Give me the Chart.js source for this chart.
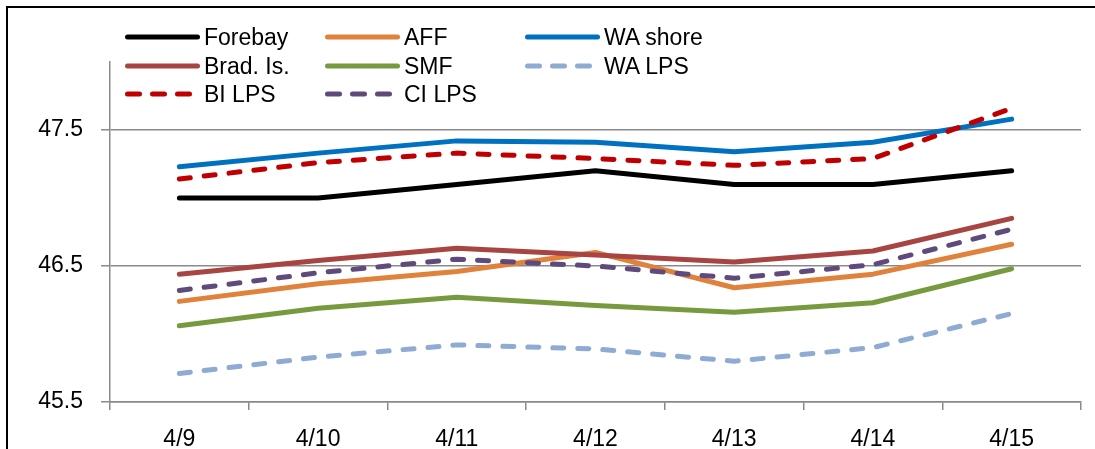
<!DOCTYPE html>
<html>
<head>
<meta charset="utf-8">
<script src="https://cdn.jsdelivr.net/npm/chart.js@4/dist/chart.umd.min.js"></script>
<style>
    html, body { margin: 0; padding: 0; background: #fff; }
    #wrap { position: relative; width: 1095px; height: 449px; overflow: hidden; }
    #frame { position: absolute; left: 6px; top: 6px; right: -10px; bottom: -10px;
             border-left: 2px solid #000; border-top: 2px solid #000; }
    #statsChart { position: absolute; left: 0; top: 0; }
    .leg { position: absolute; height: 28px; display: flex; align-items: center;
           font-family: "Liberation Sans", Arial, sans-serif; font-size: 23px; color: #000; white-space: nowrap; }
    .leg svg { margin-right: 4px; }
</style>
</head>
<body>
<div id="wrap">
    <div id="frame"></div>
    <canvas id="statsChart" width="1095" height="449"></canvas>
    <div id="legend"></div>
</div>
<script>
const categories = ['4/9', '4/10', '4/11', '4/12', '4/13', '4/14', '4/15'];
const yTicks = [45.5, 46.5, 47.5];

const forebay  = [47.00, 47.00, 47.10, 47.20, 47.10, 47.10, 47.20];
const aff      = [46.24, 46.37, 46.46, 46.60, 46.34, 46.44, 46.66];
const waShore  = [47.23, 47.33, 47.42, 47.41, 47.34, 47.41, 47.58];
const bradIs   = [46.44, 46.54, 46.63, 46.58, 46.53, 46.61, 46.85];
const smf      = [46.06, 46.19, 46.27, 46.21, 46.16, 46.23, 46.48];
const waLps    = [45.71, 45.83, 45.92, 45.89, 45.80, 45.90, 46.15];
const biLps    = [47.14, 47.26, 47.33, 47.29, 47.24, 47.29, 47.66];
const ciLps    = [46.32, 46.45, 46.55, 46.50, 46.41, 46.51, 46.77];

const series = [
    { label: 'Forebay',   data: forebay, color: '#000000', dashed: false },
    { label: 'AFF',       data: aff,     color: '#E0823C', dashed: false },
    { label: 'WA shore',  data: waShore, color: '#0070C0', dashed: false },
    { label: 'Brad. Is.', data: bradIs,  color: '#A84542', dashed: false },
    { label: 'SMF',       data: smf,     color: '#779A3E', dashed: false },
    { label: 'WA LPS',    data: waLps,   color: '#8FAAD3', dashed: true },
    { label: 'BI LPS',    data: biLps,   color: '#C00000', dashed: true },
    { label: 'CI LPS',    data: ciLps,   color: '#604A7B', dashed: true }
];

const gridColor = '#8a8a8a';
const tickFont = { family: '"Liberation Sans", Arial, sans-serif', size: 23 };

const datasets = series.map(function(s, i) {
    return {
        label: s.label,
        data: s.data,
        borderColor: s.color,
        backgroundColor: s.color,
        borderWidth: 5,
        borderDash: s.dashed ? [11, 14] : [],
        borderCapStyle: 'round',
        borderJoinStyle: 'round',
        pointRadius: 0,
        tension: 0,
        fill: false,
        order: -i
    };
});

const ctx = document.getElementById('statsChart').getContext('2d');
const myChart = new Chart(ctx, {
    type: 'line',
    data: { labels: categories, datasets: datasets },
    options: {
        responsive: false,
        animation: false,
        devicePixelRatio: 1,
        layout: { padding: { top: 62, right: 14, left: 0, bottom: 0 } },
        plugins: { legend: { display: false }, tooltip: { enabled: false } },
        scales: {
            x: {
                offset: true,
                grid: { offset: true, drawOnChartArea: false, drawTicks: true, tickLength: 8, color: gridColor, lineWidth: 1.5 },
                border: { color: gridColor, width: 1.5 },
                ticks: { color: '#000', font: tickFont, padding: 16, maxRotation: 0 },
                afterFit: function(scale) { scale.height = 47; }
            },
            y: {
                min: 45.5,
                max: 48,
                afterBuildTicks: function(scale) {
                    scale.ticks = yTicks.map(function(v) { return { value: v }; });
                },
                grid: { color: gridColor, lineWidth: 1.5, tickLength: 9 },
                border: { color: gridColor, width: 1.5 },
                ticks: {
                    color: '#000', font: tickFont, padding: 18,
                    callback: function(v) { return v.toFixed(1); }
                },
                afterFit: function(scale) { scale.width = 110; }
            }
        }
    }
});

// legend, 3 columns like the original
const legendEl = document.getElementById('legend');
const colX = [125, 325, 525];
const rowY = [37, 66, 94];
series.forEach(function(s, i) {
    const item = document.createElement('div');
    item.className = 'leg';
    item.style.left = colX[i % 3] + 'px';
    item.style.top = (rowY[Math.floor(i / 3)] - 14) + 'px';
    const dash = s.dashed ? ' stroke-dasharray="12 13"' : '';
    item.innerHTML = '<svg width="75" height="10"><line x1="2.5" y1="5" x2="72.5" y2="5" stroke="' + s.color +
        '" stroke-width="5" stroke-linecap="round"' + dash + '/></svg><span>' + s.label + '</span>';
    legendEl.appendChild(item);
});
</script>
</body>
</html>
